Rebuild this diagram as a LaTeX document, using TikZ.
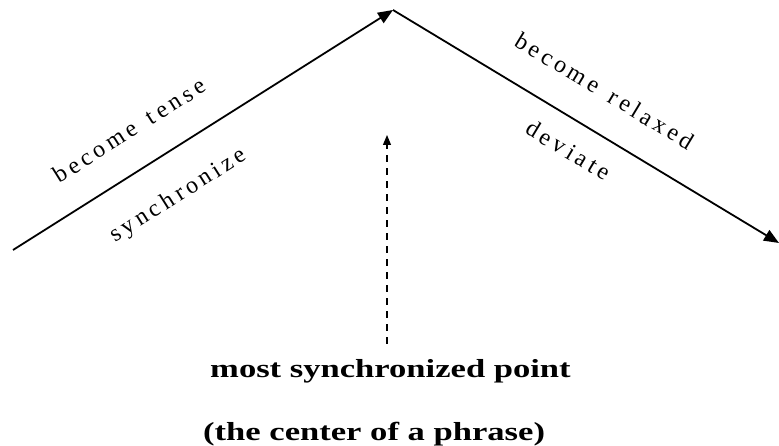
\documentclass[tikz,border=0pt]{standalone}
\usepackage{fontspec}
\setmainfont{Liberation Serif}
\newfontfamily\trackfont[LetterSpace=17]{Liberation Serif}
\newfontfamily\widefont[FakeStretch=1.33]{Liberation Serif}
\usetikzlibrary{arrows.meta}

\begin{document}
\begin{tikzpicture}[x=1pt, y=-1pt,
    mainline/.style={line width=1.8pt, -{Triangle[length=15pt, width=12pt]}},
    dashline/.style={line width=1.1pt, dash pattern=on 7pt off 6pt, -{Triangle[length=10pt, width=8pt]}},
    lbl/.style={sloped, inner sep=0pt, font=\trackfont\fontsize{24}{27}\selectfont},
    caption/.style={anchor=base west, inner sep=0pt, font=\widefont\bfseries\fontsize{26}{30}\selectfont}
]
\useasboundingbox (0,0) rectangle (779,446);
\coordinate (start) at (13,250);
\coordinate (peak) at (393,10);
\coordinate (stop) at (779,243);
\coordinate (dashtip) at (387,135);
\node[caption] (mostpt) at (210,377) {most synchronized point};
\node[caption] (phrase) at (203,440) {(the center of a phrase)};

\draw[mainline] (start) -- (peak)
    node[lbl, pos=0.361, yshift=39.5pt] (tense) {become\hspace*{0.6em}tense}
    node[lbl, pos=0.376, yshift=-42.7pt] (sync) {synchronize};
\draw[mainline] (peak) -- (stop)
    node[lbl, pos=0.495, yshift=40.2pt] (relax) {become\hspace*{0.6em}relaxed}
    node[lbl, pos=0.494, yshift=-29.2pt] (dev) {deviate};
\draw[dashline, shorten <=15pt] (mostpt.north -| dashtip) -- (dashtip);
\end{tikzpicture}
\end{document}
